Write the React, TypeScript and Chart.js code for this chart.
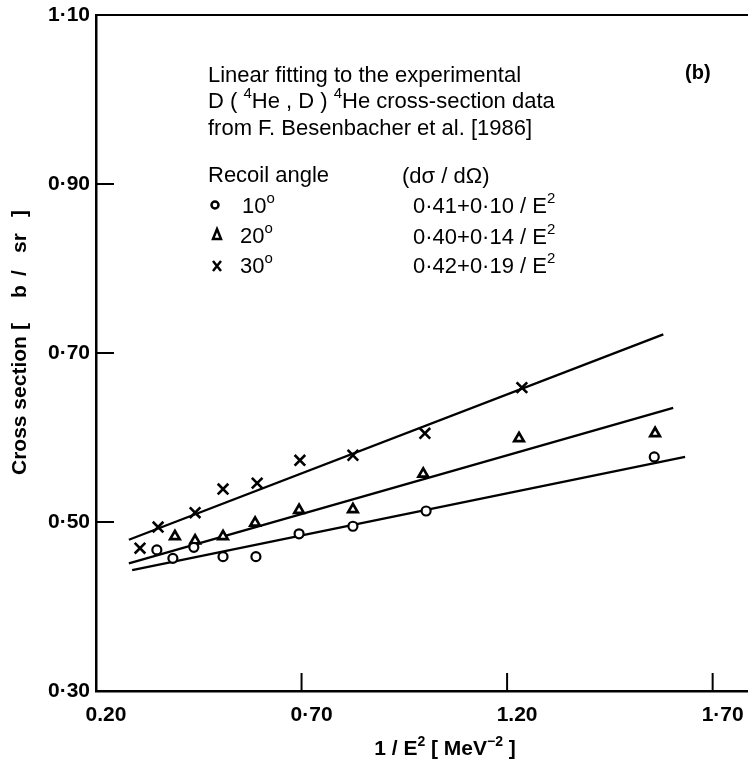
import { useEffect, useRef } from "react";
import { Chart, registerables } from "chart.js";

Chart.register(...registerables);

// ---- data ----
const xTickValues = [0.2, 0.7, 1.2, 1.7];
const xTickLabels = ["0.20", "0·70", "1.20", "1·70"];
const yTickValues = [0.3, 0.5, 0.7, 0.9, 1.1];
const yTickLabels = ["0·30", "0·50", "0·70", "0·90", "1·10"];

const x10 = [0.348, 0.387, 0.438, 0.509, 0.589, 0.694, 0.825, 1.003, 1.558];
const y10 = [0.467, 0.457, 0.47, 0.459, 0.459, 0.486, 0.495, 0.513, 0.577];

const x20 = [0.392, 0.441, 0.509, 0.587, 0.694, 0.825, 0.996, 1.229, 1.56];
const y20 = [0.483, 0.478, 0.483, 0.499, 0.514, 0.515, 0.557, 0.599, 0.605];

const x30 = [0.307, 0.351, 0.441, 0.509, 0.592, 0.696, 0.825, 1.0, 1.236];
const y30 = [0.469, 0.494, 0.511, 0.539, 0.546, 0.573, 0.579, 0.605, 0.659];

const fitX10 = [0.288, 1.633];
const fitY10 = [0.443, 0.577];
const fitX20 = [0.28, 1.604];
const fitY20 = [0.451, 0.635];
const fitX30 = [0.28, 1.58];
const fitY30 = [0.479, 0.722];

const FONT = '"Liberation Sans", Arial, sans-serif';

type Run = { t: string; sup?: boolean };

function drawRuns(
  ctx: CanvasRenderingContext2D,
  x: number,
  y: number,
  runs: Run[],
  size: number,
  weight: string,
  align: "left" | "center" = "left"
) {
  const supSize = Math.round(size * 0.68);
  const fontFor = (r: Run) => `${weight} ${r.sup ? supSize : size}px ${FONT}`;
  let total = 0;
  const widths = runs.map((r) => {
    ctx.font = fontFor(r);
    const w = ctx.measureText(r.t).width;
    total += w;
    return w;
  });
  let cx = align === "center" ? x - total / 2 : x;
  ctx.textAlign = "left";
  ctx.textBaseline = "alphabetic";
  runs.forEach((r, i) => {
    ctx.font = fontFor(r);
    ctx.fillText(r.t, cx, r.sup ? y - size * 0.45 : y);
    cx += widths[i];
  });
}

const decorPlugin = {
  id: "decor",
  afterDraw(chart: any) {
    const ctx: CanvasRenderingContext2D = chart.ctx;
    const area = chart.chartArea;
    const xs = chart.scales.x;
    const ys = chart.scales.y;
    ctx.save();
    ctx.strokeStyle = "#000";
    ctx.fillStyle = "#000";
    ctx.lineWidth = 2;
    // top border
    ctx.beginPath();
    ctx.moveTo(area.left, area.top);
    ctx.lineTo(area.right, area.top);
    ctx.stroke();
    // inward tick marks
    xTickValues.slice(1).forEach((v) => {
      const px = xs.getPixelForValue(v);
      ctx.beginPath();
      ctx.moveTo(px, area.bottom);
      ctx.lineTo(px, area.bottom - 18);
      ctx.stroke();
    });
    yTickValues.slice(1, -1).forEach((v) => {
      const py = ys.getPixelForValue(v);
      ctx.beginPath();
      ctx.moveTo(area.left, py);
      ctx.lineTo(area.left + 18, py);
      ctx.stroke();
    });

    // annotation text
    const S = 22;
    drawRuns(ctx, 208, 82, [{ t: "Linear fitting to the experimental" }], S, "normal");
    drawRuns(
      ctx,
      208,
      108,
      [
        { t: "D ( " },
        { t: "4", sup: true },
        { t: "He , D ) " },
        { t: "4", sup: true },
        { t: "He cross-section data" },
      ],
      S,
      "normal"
    );
    drawRuns(ctx, 208, 135, [{ t: "from F. Besenbacher et al. [1986]" }], S, "normal");
    drawRuns(ctx, 685, 79, [{ t: "(b)" }], 20, "bold");
    drawRuns(ctx, 208, 182, [{ t: "Recoil angle" }], S, "normal");
    drawRuns(ctx, 242, 213, [{ t: "10" }, { t: "o", sup: true }], S, "normal");
    drawRuns(ctx, 240, 243, [{ t: "20" }, { t: "o", sup: true }], S, "normal");
    drawRuns(ctx, 240, 273, [{ t: "30" }, { t: "o", sup: true }], S, "normal");
    // legend symbols
    ctx.lineWidth = 2.5;
    ctx.beginPath();
    ctx.arc(215, 205, 3.5, 0, Math.PI * 2);
    ctx.stroke();
    ctx.beginPath();
    ctx.moveTo(217, 229);
    ctx.lineTo(221, 239);
    ctx.lineTo(213, 239);
    ctx.closePath();
    ctx.stroke();
    ctx.beginPath();
    ctx.moveTo(213, 261);
    ctx.lineTo(221, 271);
    ctx.moveTo(221, 261);
    ctx.lineTo(213, 271);
    ctx.stroke();

    drawRuns(ctx, 402, 183, [{ t: "(dσ / dΩ)" }], S, "normal");
    drawRuns(ctx, 413, 213, [{ t: "0·41+0·10 / E" }, { t: "2", sup: true }], S, "normal");
    drawRuns(ctx, 413, 244, [{ t: "0·40+0·14 / E" }, { t: "2", sup: true }], S, "normal");
    drawRuns(ctx, 413, 273, [{ t: "0·42+0·19 / E" }, { t: "2", sup: true }], S, "normal");

    // axis titles
    drawRuns(
      ctx,
      445,
      755,
      [{ t: "1 / E" }, { t: "2", sup: true }, { t: " [ MeV" }, { t: "−2", sup: true }, { t: " ]" }],
      21,
      "bold",
      "center"
    );
    ctx.save();
    ctx.translate(26, 475);
    ctx.rotate(-Math.PI / 2);
    const yTitleParts: [string, number][] = [
      ["Cross section", 0],
      ["[", 145],
      ["b", 177],
      ["/", 199],
      ["sr", 222],
      ["]", 258],
    ];
    yTitleParts.forEach(([t, off]) => drawRuns(ctx, off, 0, [{ t }], 21, "bold"));
    ctx.restore();

    ctx.restore();
  },
};

const toPoints = (xs: number[], ys: number[]) => xs.map((x, i) => ({ x, y: ys[i] }));

export default function App() {
  const ref = useRef<HTMLCanvasElement | null>(null);

  useEffect(() => {
    document.body.style.margin = "0";
    if (!ref.current) return;
    const markerBase = {
      showLine: false,
      borderColor: "#000",
      backgroundColor: "#fff",
      order: 0,
    };
    const lineBase = {
      showLine: true,
      borderColor: "#000",
      borderWidth: 2.3,
      pointRadius: 0,
      fill: false,
      order: 1,
    };
    const chart = new Chart(ref.current, {
      type: "scatter",
      data: {
        datasets: [
          { ...markerBase, label: "10°", data: toPoints(x10, y10), pointStyle: "circle", pointRadius: 4.5, borderWidth: 2.2 },
          { ...markerBase, label: "20°", data: toPoints(x20, y20), pointStyle: "triangle", pointRadius: 5.5, borderWidth: 2.7 },
          { ...markerBase, label: "30°", data: toPoints(x30, y30), pointStyle: "crossRot", pointRadius: 7.5, borderWidth: 2.6 },
          { ...lineBase, label: "fit 10°", data: toPoints(fitX10, fitY10) },
          { ...lineBase, label: "fit 20°", data: toPoints(fitX20, fitY20) },
          { ...lineBase, label: "fit 30°", data: toPoints(fitX30, fitY30) },
        ] as any,
      },
      options: {
        animation: false,
        responsive: false,
        layout: { autoPadding: false, padding: { top: 15, left: 0, right: 0, bottom: 0 } },
        plugins: { legend: { display: false }, tooltip: { enabled: false } },
        scales: {
          x: {
            type: "linear",
            min: 0.2,
            max: 1.786,
            grid: { display: false, drawTicks: false },
            border: { display: true, color: "#000", width: 2.5 },
            afterBuildTicks: (s: any) => {
              s.ticks = xTickValues.map((v) => ({ value: v }));
            },
            afterFit: (s: any) => {
              s.height = 70;
              s.paddingLeft = 0;
              s.paddingRight = 0;
            },
            ticks: {
              callback: (_v: any, i: number) => xTickLabels[i],
              color: "#000",
              font: { family: FONT, size: 21, weight: "bold" },
              padding: 12,
              labelOffset: 10,
              maxRotation: 0,
              autoSkip: false,
            },
          },
          y: {
            type: "linear",
            min: 0.3,
            max: 1.1,
            grid: { display: false, drawTicks: false },
            border: { display: true, color: "#000", width: 2.5 },
            afterBuildTicks: (s: any) => {
              s.ticks = yTickValues.map((v) => ({ value: v }));
            },
            afterFit: (s: any) => {
              s.width = 96;
              s.paddingTop = 0;
              s.paddingBottom = 0;
            },
            ticks: {
              callback: (_v: any, i: number) => yTickLabels[i],
              color: "#000",
              font: { family: FONT, size: 21, weight: "bold" },
              padding: 6,
              autoSkip: false,
            },
          },
        },
      } as any,
      plugins: [decorPlugin],
    });
    return () => chart.destroy();
  }, []);

  return <canvas ref={ref} width={748} height={761} style={{ display: "block" }} />;
}
